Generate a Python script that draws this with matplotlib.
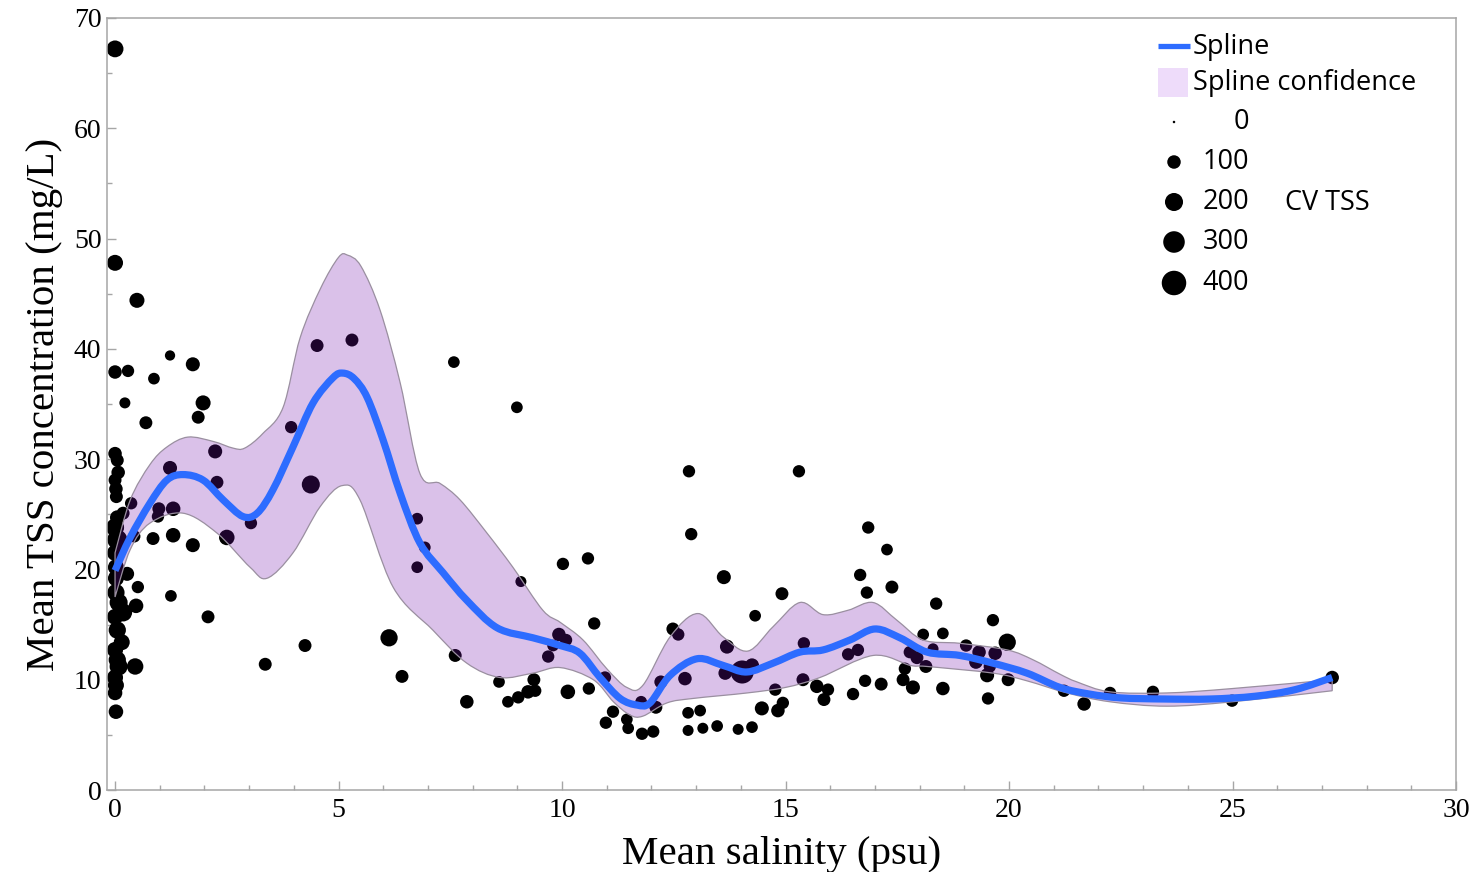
import numpy as np
import matplotlib
matplotlib.use("Agg")
import matplotlib.pyplot as plt
from matplotlib.patches import Rectangle, PathPatch
from matplotlib.path import Path
from matplotlib.colors import to_rgba
from matplotlib.ticker import MultipleLocator

# ---------------- data ----------------
salinity = [
    0.0, 0.0, 0.49, 0.0, 0.29, 1.23, 1.74, 0.87, 0.22, 1.97, 1.86, 0.69,
    0.0, 0.05, 0.07, 0.0, 0.02, 0.03, 2.24, 1.23, 3.94, 4.52, 4.38, 2.28,
    3.04, 2.5, 1.3, 0.98, 0.96, 0.36, 0.18, 0.43, 0.85, 1.3, 1.74, 0.27,
    0.51, 0.47, 1.25, 2.08, 0.45, 3.36, 4.25,
    0.05, 0.0, 0.05, 0.0, 0.02, 0.02, 0.02, 0.08, 0.18, 0.0, 0.05, 0.15,
    0.0, 0.05, 0.08, 0.0, 0.02, 0.0, 0.02,
    5.3, 7.58, 8.99, 12.84, 12.89, 6.76, 6.93, 6.76, 9.08, 10.02, 10.58,
    10.72, 12.48, 12.6, 9.93, 10.09, 9.8, 9.69, 6.13, 7.61, 6.42, 7.87,
    8.59, 8.79, 9.02, 9.24, 9.4, 9.37, 10.13, 10.96, 10.6, 11.14, 10.98,
    11.45, 11.48, 11.77, 11.79, 12.04, 12.1, 12.21, 12.75, 12.82, 12.82,
    15.3, 13.62, 16.85, 17.27, 16.67, 16.82, 17.38, 14.92, 14.32, 18.37,
    19.64, 18.52, 18.08, 19.96, 19.04, 19.33, 19.69, 18.3, 17.78, 17.94,
    18.14, 19.26, 19.57, 19.51, 19.98, 17.67, 17.63, 17.85, 18.52, 19.53,
    17.14, 16.78, 16.51, 16.4, 16.62, 15.41, 15.39, 15.7, 15.95, 15.86,
    14.77, 14.94, 14.83, 14.47, 14.25, 14.03, 13.65, 13.69, 13.09, 13.15,
    13.47, 13.94, 14.25, 21.23, 21.68, 22.26, 23.22, 24.99, 27.23,
]
tss = [
    67.2, 47.8, 44.4, 37.9, 38.0, 39.4, 38.6, 37.3, 35.1, 35.1, 33.8, 33.3,
    30.5, 29.9, 28.8, 28.1, 27.3, 26.6, 30.7, 29.2, 32.9, 40.3, 27.7, 27.9,
    24.2, 22.9, 25.5, 25.5, 24.8, 26.0, 25.1, 23.0, 22.8, 23.1, 22.2, 19.6,
    18.4, 16.7, 17.6, 15.7, 11.2, 11.4, 13.1,
    24.7, 23.8, 22.7, 21.5, 20.2, 19.2, 17.9, 17.0, 16.1, 15.7, 14.5, 13.4,
    12.7, 11.8, 11.2, 10.2, 9.5, 8.8, 7.1,
    40.8, 38.8, 34.7, 28.9, 23.2, 24.6, 22.0, 20.2, 18.9, 20.5, 21.0,
    15.1, 14.6, 14.1, 14.1, 13.6, 13.1, 12.1, 13.8, 12.2, 10.3, 8.0,
    9.8, 8.0, 8.4, 8.9, 9.0, 10.0, 8.9, 10.2, 9.2, 7.1, 6.1,
    6.4, 5.6, 8.0, 5.1, 5.3, 7.5, 9.8, 10.1, 7.0, 5.4,
    28.9, 19.3, 23.8, 21.8, 19.5, 17.9, 18.4, 17.8, 15.8, 16.9,
    15.4, 14.2, 14.1, 13.4, 13.1, 12.5, 12.4, 12.8, 12.5, 12.0,
    11.2, 11.6, 11.2, 10.4, 10.0, 11.0, 10.0, 9.3, 9.2, 8.3,
    9.6, 9.9, 8.7, 12.3, 12.7, 13.3, 10.0, 9.4, 9.1, 8.2,
    9.1, 7.9, 7.2, 7.4, 11.3, 10.7, 10.6, 13.0, 7.2, 5.6,
    5.8, 5.5, 5.7, 9.0, 7.8, 8.8, 8.9, 8.1, 10.2,
]
cv_tss = [
    170, 150, 130, 100, 80, 50, 110, 70, 60, 130, 90, 90,
    100, 90, 100, 90, 100, 90, 110, 110, 80, 90, 200, 90,
    80, 140, 120, 90, 80, 80, 90, 80, 90, 120, 110, 110,
    80, 120, 70, 90, 160, 90, 90,
    120, 200, 250, 150, 150, 150, 180, 200, 200, 150, 180, 150,
    150, 180, 200, 150, 150, 120, 120,
    90, 70, 70, 80, 80, 70, 70, 70, 60, 80, 80,
    80, 90, 80, 100, 80, 70, 80, 180, 90, 90, 100,
    70, 70, 80, 100, 80, 90, 120, 80, 80, 80, 80,
    70, 70, 70, 80, 80, 90, 90, 100, 70, 60,
    80, 110, 80, 70, 80, 80, 90, 90, 70, 80,
    80, 70, 70, 180, 80, 100, 100, 60, 80, 90,
    90, 100, 80, 110, 90, 80, 90, 110, 100, 80,
    90, 80, 80, 80, 80, 80, 90, 100, 80, 90,
    80, 80, 100, 110, 110, 350, 100, 110, 70, 60,
    70, 60, 70, 80, 100, 80, 80, 80, 100,
]

spline_x = [0, 0.34, 0.78, 1.16, 1.52, 1.97, 2.42, 2.86, 3.18, 3.53, 3.98,
            4.43, 4.88, 5.1, 5.35, 5.64, 6.0, 6.38, 6.82, 7.34, 7.87, 8.55,
            9.35, 9.96, 10.4, 10.85, 11.3, 11.68, 11.97, 12.42, 13.02, 13.6,
            14.13, 14.72, 15.32, 15.84, 16.44, 17.0, 17.56, 18.17, 18.9,
            19.64, 20.4, 21.14, 21.8, 22.5, 23.5, 24.5, 25.5, 26.4, 27.23]
spline_y = [19.9, 22.9, 26.0, 28.1, 28.6, 28.1, 26.3, 24.8, 25.1, 27.2, 31.1,
            35.1, 37.4, 37.8, 37.3, 35.6, 31.7, 26.9, 22.4, 19.7, 17.2, 14.7,
            13.8, 13.1, 12.4, 10.2, 8.3, 7.7, 7.9, 10.4, 11.9, 11.3,
            10.7, 11.5, 12.5, 12.7, 13.6, 14.6, 13.8, 12.5, 12.2,
            11.5, 10.6, 9.3, 8.7, 8.35, 8.25, 8.25, 8.5, 9.1, 10.2]

upper_x = [0.0, 0.34, 0.78, 1.16, 1.63, 2.2, 2.64, 2.9, 3.3, 3.76, 4.14, 4.6,
           5.0, 5.2, 5.5, 5.93, 6.38, 6.82, 7.27, 7.72, 8.32, 8.9, 9.57, 9.96,
           10.47, 11.0, 11.45, 11.81, 12.42, 13.04, 13.6, 14.16, 14.72, 15.32,
           15.84, 16.4, 16.96, 17.49, 18.08, 18.9, 19.96, 20.54, 21.14, 21.52,
           22.26, 23.53, 25.0, 27.23]
upper_y = [21.5, 26.3, 29.5, 31.1, 32.0, 31.6, 31.0, 31.0, 32.3, 34.7, 41.0, 45.5,
           48.3, 48.5, 47.5, 43.5, 36.9, 28.7, 27.8, 26.3, 23.3, 20.2, 16.3, 15.2,
           13.6, 11.0, 9.3, 9.5, 13.9, 16.0, 13.9, 12.6, 14.8, 17.0,
           15.9, 16.3, 17.0, 15.4, 13.6, 13.3, 12.7, 11.8, 10.5, 9.8,
           8.9, 8.8, 9.2, 10.0]
lower_x = [0.0, 0.34, 0.78, 1.52, 2.28, 3.02, 3.4, 3.98, 4.59, 5.08, 5.48, 6.22,
           7.11, 7.87, 8.61, 9.35, 9.96, 10.7, 11.15, 11.52, 11.81, 12.35,
           12.93, 14.14, 15.0, 15.77, 16.96, 17.79, 18.17, 19.64, 20.4, 21.3,
           22.26, 23.53, 25.0, 27.23]
lower_y = [17.5, 21.8, 24.2, 25.1, 23.3, 20.2, 19.2, 21.5, 25.7, 27.6, 26.3, 18.4,
           14.5, 11.5, 10.2, 10.6, 11.1, 10.0, 8.0, 6.8, 6.7, 7.9,
           8.3, 8.8, 9.3, 10.2, 12.2, 11.3, 11.2, 10.6, 9.9, 8.8,
           8.0, 7.6, 8.0, 9.0]

legend_cv = [0, 100, 200, 300, 400]
x_ticks = [0, 5, 10, 15, 20, 25, 30]
y_ticks = [0, 10, 20, 30, 40, 50, 60, 70]

# ---------------- style ----------------
W, H = 1473, 872
SERIF = ["Liberation Serif", "DejaVu Serif"]
SANS = ["Open Sans", "Noto Sans", "DejaVu Sans"]
GRAY = "#a6a6a6"
BLUE = "#2d6cff"
BAND = "#7213ab"


def marker_area(cv):
    d_px = 2.5 + 1.1 * np.sqrt(np.asarray(cv, dtype=float))
    return (d_px * 72 / 100) ** 2


def smooth_segments(xs, ys):
    """Bezier (Catmull-Rom style) path pieces through the read points."""
    p = np.column_stack([xs, ys]).astype(float)
    n = len(p)
    verts = [p[0]]
    codes = [Path.MOVETO]
    for i in range(n - 1):
        p0 = p[i - 1] if i > 0 else p[i]
        p3 = p[i + 2] if i + 2 < n else p[i + 1]
        c1 = p[i] + (p[i + 1] - p0) / 6.0
        c2 = p[i + 1] - (p3 - p[i]) / 6.0
        verts += [c1, c2, p[i + 1]]
        codes += [Path.CURVE4] * 3
    return verts, codes


fig = plt.figure(figsize=(W / 100, H / 100), dpi=100)
ax = fig.add_axes([107 / W, 1 - 790 / H, 1349 / W, 772 / H])

ax.scatter(salinity, tss, s=marker_area(cv_tss), c="black",
           edgecolors="none", zorder=2)

# confidence band: upper edge forward, lower edge backward
uv, uc = smooth_segments(upper_x, upper_y)
lv, lc = smooth_segments(lower_x[::-1], lower_y[::-1])
band_verts = uv + lv + [uv[0]]
band_codes = uc + [Path.LINETO] + lc[1:] + [Path.CLOSEPOLY]
band_path = Path(band_verts, band_codes)
ax.add_patch(PathPatch(band_path, facecolor=to_rgba(BAND, 0.26),
                       edgecolor="#9a8fa0", lw=0.9, zorder=3))

sv, sc = smooth_segments(spline_x, spline_y)
ax.add_patch(PathPatch(Path(sv, sc), facecolor="none", edgecolor=BLUE,
                       lw=5.2, capstyle="butt", joinstyle="round", zorder=4))

ax.set_xlim(-0.18, 30)
ax.set_ylim(0, 70)
ax.set_xticks(x_ticks)
ax.set_yticks(y_ticks)
ax.xaxis.set_minor_locator(MultipleLocator(1))
ax.yaxis.set_minor_locator(MultipleLocator(5))
for sp in ax.spines.values():
    sp.set_color(GRAY)
    sp.set_linewidth(1.1)
ax.tick_params(which="both", direction="in", color=GRAY, width=1.0,
               labelsize=20)
ax.tick_params(which="major", length=6.5)
ax.tick_params(which="minor", length=3.6)
ax.tick_params(axis="x", pad=6)
ax.tick_params(axis="y", pad=4)
for lab in ax.get_xticklabels() + ax.get_yticklabels():
    lab.set_family(SERIF)

ax.set_xlabel("Mean salinity (psu)", family=SERIF, fontsize=29.5, labelpad=9)
ax.set_ylabel("Mean TSS concentration (mg/L)", family=SERIF, fontsize=29.5,
              labelpad=8)


# ---------------- legend (manual) ----------------
def fx(px):
    return (px - 107) / 1349


def fy(py):
    return (790 - py) / 772


LFS = 19.5
tr = ax.transAxes
ax.plot([fx(1158), fx(1190)], [fy(46), fy(46)], transform=tr, color=BLUE,
        lw=3.8, solid_capstyle="butt", clip_on=False, zorder=6)
ax.text(fx(1193), fy(47), "Spline", transform=tr, family=SANS, fontsize=LFS,
        va="center", ha="left")
ax.add_patch(Rectangle((fx(1158), fy(97)), fx(1188) - fx(1158), fy(68) - fy(97),
                       transform=tr, facecolor="#eedcfa", edgecolor="none",
                       clip_on=False, zorder=6))
ax.text(fx(1193), fy(83), "Spline confidence", transform=tr, family=SANS,
        fontsize=LFS, va="center", ha="left")
leg_y = [122, 162, 202, 242, 283]
for cv, py in zip(legend_cv, leg_y):
    ax.scatter([fx(1174)], [fy(py)], s=marker_area(cv), c="black",
               edgecolors="none", transform=tr, clip_on=False, zorder=6)
    ax.text(fx(1249), fy(py), str(cv), transform=tr, family=SANS,
            fontsize=LFS, va="center", ha="right")
ax.text(fx(1285), fy(203), "CV TSS", transform=tr, family=SANS, fontsize=LFS,
        va="center", ha="left")

fig.savefig("out.png", dpi=100)
